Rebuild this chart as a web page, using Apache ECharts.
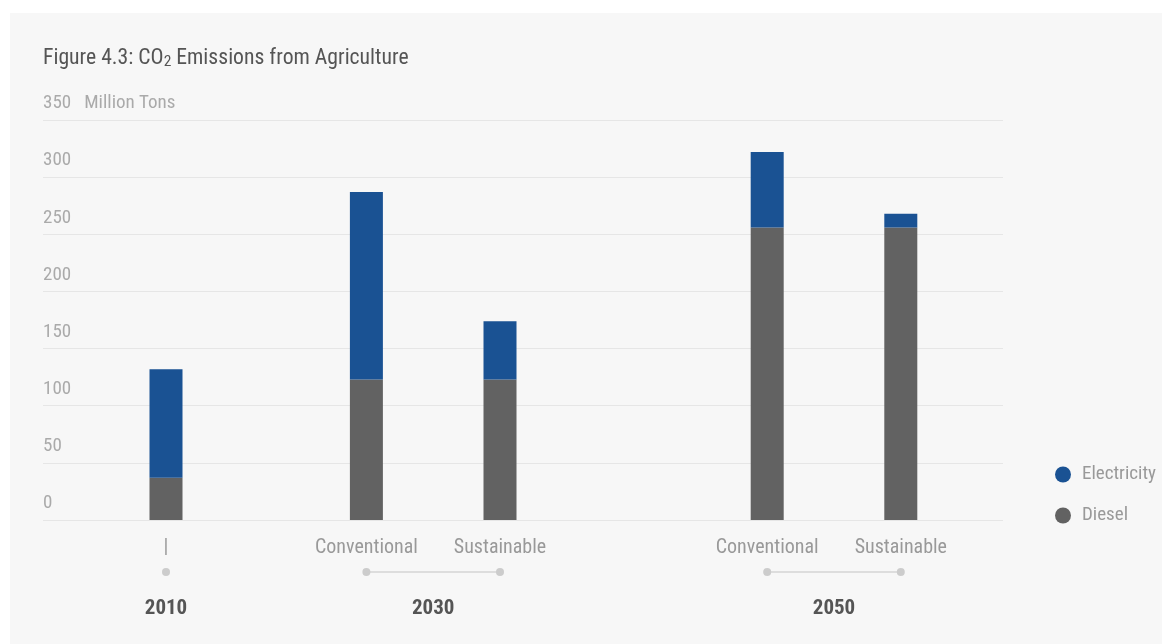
<!DOCTYPE html>
<html><head><meta charset="utf-8">
<script src="https://cdn.jsdelivr.net/npm/echarts@6/dist/echarts.min.js"></script>
<style>
html,body{margin:0;padding:0;background:#fff;}
#panel{position:absolute;left:10px;top:13px;width:1152px;height:631px;background:#f7f7f7;}
#c{position:absolute;left:0;top:0;width:1162px;height:644px;}
</style></head><body>
<div id="panel"></div>
<div id="c"></div>
<script>
var slots = ['2010','','','2030 Conventional','','2030 Sustainable','','','','2050 Conventional','','2050 Sustainable'];
var scenarioLabels = ['|','','','Conventional','','Sustainable','','','','Conventional','','Sustainable'];
var yearLabels = ['2010','','','','2030','','','','','','2050',''];
var diesel =      [37, null, null, 123, null, 123, null, null, null, 256, null, 256];
var electricity = [95, null, null, 164, null, 51,  null, null, null, 66,  null, 12];
var groups = {'2010':[0], '2030':[3,5], '2050':[9,11]};

var FONT = "'Roboto Condensed','Liberation Sans Narrow','DejaVu Sans Condensed',Roboto,sans-serif";
var chart = echarts.init(document.getElementById('c'), null, {renderer:'canvas'});
var gL = 132.6, gW = 801.6;
var dotSeries = Object.keys(groups).map(function(k){
  return {type:'line', xAxisIndex:2, yAxisIndex:2, data: groups[k].map(function(i){return [i,0];}),
    symbol:'circle', symbolSize:8, itemStyle:{color:'#cccccc'}, lineStyle:{color:'#dddddd', width:2},
    silent:true, animation:false};
});
chart.setOption({
  backgroundColor:'transparent',
  animation:false,
  title:{text:'{a|Figure 4.3: CO}{s|2}{a| Emissions from Agriculture}', left:43, top:46, padding:0,
    textStyle:{fontWeight:'normal', rich:{a:{fontFamily:FONT, fontSize:21.7, fontWeight:'normal', color:'#555555', verticalAlign:'bottom', lineHeight:24},
      s:{fontFamily:FONT, fontSize:15.5, fontWeight:'normal', color:'#555555', verticalAlign:'bottom', lineHeight:19}}}},
  legend:{orient:'vertical', left:1055, top:465, icon:'circle', itemWidth:16, itemHeight:16, itemGap:22, padding:0,
    data:['Electricity','Diesel'], textStyle:{fontFamily:FONT, fontSize:19, color:'#999999', padding:[0,0,0,6]}},
  grid:[
    {left:43, width:960, top:120, height:400},
    {left:gL, width:gW, top:120, height:400},
    {left:gL, width:gW, top:560, height:24}
  ],
  xAxis:[
    {gridIndex:0, type:'category', data:[''], show:false},
    {gridIndex:1, type:'category', data:slots, axisLine:{show:false}, axisTick:{show:false},
      axisLabel:{interval:0, margin:18, fontFamily:FONT, fontSize:20, color:'#999999',
        formatter:function(v,i){return scenarioLabels[i];}}},
    {gridIndex:2, type:'category', data:slots, axisLine:{show:false}, axisTick:{show:false},
      axisLabel:{interval:0, margin:14, fontFamily:FONT, fontSize:21, fontWeight:'bold', color:'#555555',
        formatter:function(v,i){return yearLabels[i];}}}
  ],
  yAxis:[
    {gridIndex:0, type:'value', min:0, max:350, interval:50, axisLine:{show:false}, axisTick:{show:false},
      splitLine:{lineStyle:{color:'#e6e6e6', width:1}},
      axisLabel:{inside:true, margin:0, verticalAlign:'bottom', padding:[0,0,7,0], fontFamily:FONT, fontSize:19, color:'#aaaaaa',
        formatter:function(v){return v===350 ? '350   Million Tons' : String(v);}}},
    {gridIndex:1, type:'value', min:0, max:350, interval:50, show:false},
    {gridIndex:2, type:'value', min:-1, max:1, show:false}
  ],
  series:[
    {name:'Diesel', type:'bar', stack:'t', xAxisIndex:1, yAxisIndex:1, data:diesel, barWidth:33, itemStyle:{color:'#626262'}},
    {name:'Electricity', type:'bar', stack:'t', xAxisIndex:1, yAxisIndex:1, data:electricity, barWidth:33, itemStyle:{color:'#1a5293'}}
  ].concat(dotSeries)
});
</script></body></html>
